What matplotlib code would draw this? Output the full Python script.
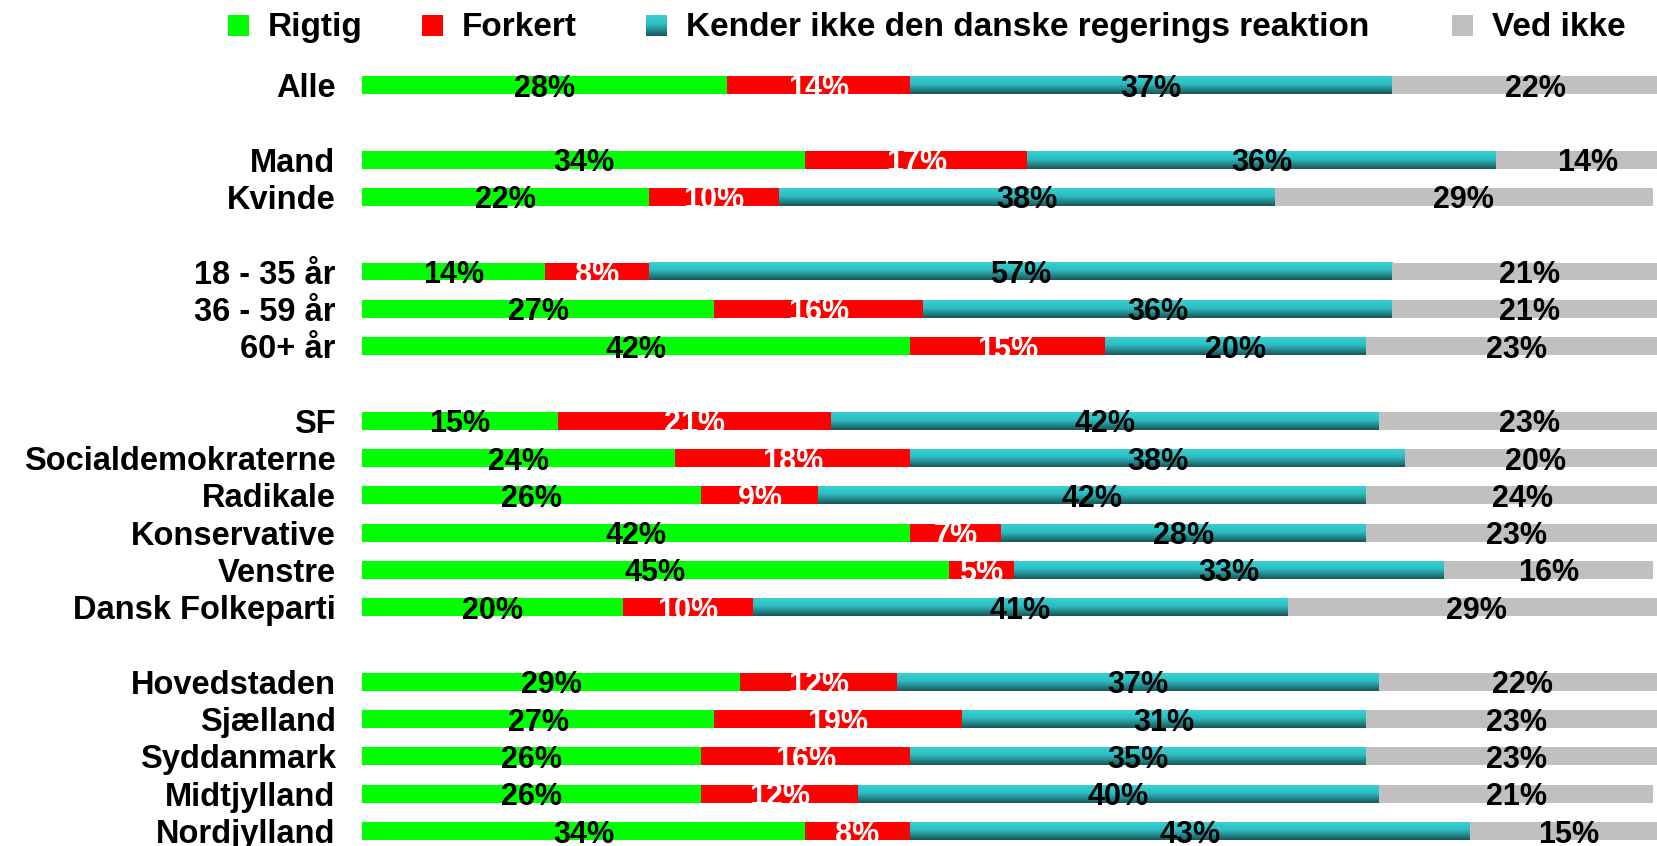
import numpy as np
import matplotlib
matplotlib.use("Agg")
import matplotlib.pyplot as plt
from matplotlib.colors import LinearSegmentedColormap

plt.rcParams['font.family'] = ['Liberation Sans', 'DejaVu Sans']
plt.rcParams['font.weight'] = 'bold'

# data
series = ["Rigtig", "Forkert", "Kender ikke den danske regerings reaktion", "Ved ikke"]
categories = ["Alle",
              "Mand", "Kvinde",
              "18 - 35 år", "36 - 59 år", "60+ år",
              "SF", "Socialdemokraterne", "Radikale", "Konservative", "Venstre", "Dansk Folkeparti",
              "Hovedstaden", "Sjælland", "Syddanmark", "Midtjylland", "Nordjylland"]
group_sizes = [1, 2, 3, 6, 5]

rigtig  = [28, 34, 22, 14, 27, 42, 15, 24, 26, 42, 45, 20, 29, 27, 26, 26, 34]
forkert = [14, 17, 10,  8, 16, 15, 21, 18,  9,  7,  5, 10, 12, 19, 16, 12,  8]
kender  = [37, 36, 38, 57, 36, 20, 42, 38, 42, 28, 33, 41, 37, 31, 35, 40, 43]
ved_ikke = [22, 14, 29, 21, 21, 23, 23, 20, 24, 23, 16, 29, 22, 23, 23, 21, 15]

colors = ["#00FF00", "#FF0000", None, "#C0C0C0"]
text_colors = ["black", "white", "black", "black"]
teal = LinearSegmentedColormap.from_list("teal", [(0, "#36D0D4"), (0.45, "#2DBCC0"), (1, "#195559")])

# row positions with a blank row between groups
positions = []
slot = 0
for size in group_sizes:
    for i in range(size):
        positions.append(slot)
        slot += 1
    slot += 1

W, H = 1657, 846
fig = plt.figure(figsize=(W / 100, H / 100), dpi=100)
ax = fig.add_axes([362 / W, 0, 1304 / W, 1])

bar_h = 0.48
grad = np.linspace(0, 1, 64).reshape(-1, 1)
left = np.zeros(len(categories))
for k, vals in enumerate([rigtig, forkert, kender, ved_ikke]):
    if colors[k] is None:
        # teal segments get a vertical gradient
        bars = ax.barh(positions, vals, left=left, height=bar_h, color="none", linewidth=0)
        for r in bars:
            x0, y0 = r.get_x(), r.get_y()
            ax.imshow(grad, extent=(x0, x0 + r.get_width(), y0 + r.get_height(), y0),
                      aspect='auto', cmap=teal, origin='upper', zorder=2)
    else:
        ax.barh(positions, vals, left=left, height=bar_h, color=colors[k], linewidth=0, zorder=2)
    for y, l, v in zip(positions, left, vals):
        ax.text(l + v / 2, y, f"{v}%", ha='center', va='center_baseline',
                fontsize=22, fontweight='bold', color=text_colors[k], zorder=5)
    left = left + np.array(vals)

row = 37.3
ax.set_xlim(0, 100)
ax.set_ylim((H - 85) / row, -85 / row)
ax.set_yticks(positions)
ax.set_yticklabels(categories, fontsize=23.5, fontweight='bold')
ax.tick_params(axis='y', length=0, pad=19)
ax.set_xticks([])
for s in ax.spines.values():
    s.set_visible(False)

# legend
sq_x = [228, 422, 646, 1452]
sq = 21
for k, name in enumerate(series):
    fx, fy = sq_x[k] / W, 1 - 36 / H
    if colors[k] is None:
        lax = fig.add_axes([fx, fy, sq / W, sq / H])
        lax.imshow(grad, aspect='auto', cmap=teal)
        lax.axis('off')
    else:
        fig.add_artist(plt.Rectangle((fx, fy), sq / W, sq / H, transform=fig.transFigure,
                                     color=colors[k], linewidth=0))
    fig.text((sq_x[k] + 40) / W, 1 - 24 / H, name, fontsize=24, fontweight='bold',
             ha='left', va='center_baseline')

fig.savefig("out.png", dpi=100)
